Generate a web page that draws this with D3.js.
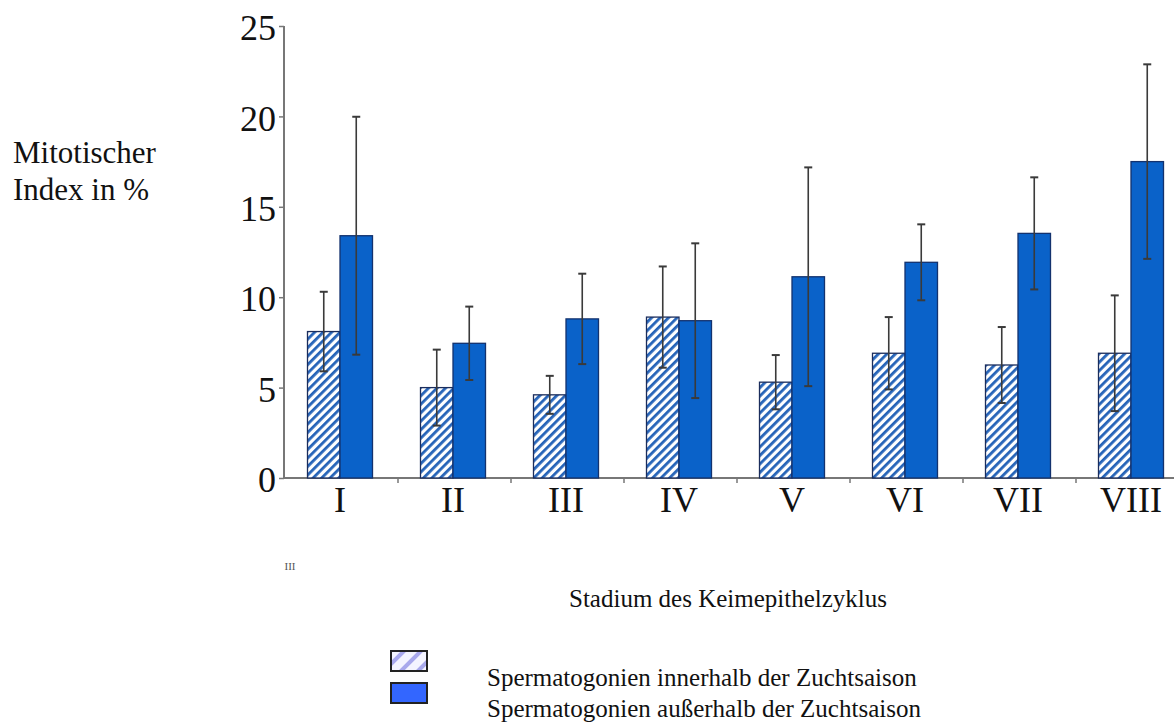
<!DOCTYPE html>
<html><head><meta charset="utf-8">
<script src="https://cdn.jsdelivr.net/npm/d3@7"></script>
<style>
html,body{margin:0;padding:0;background:#fff;}
svg{display:block;}
svg text{font-family:"Liberation Serif","Times New Roman",serif;}
</style></head>
<body><svg id="chart" width="1174" height="725"></svg>
<script>
const categories = ["I","II","III","IV","V","VI","VII","VIII"];
const inSeason = [8.1, 5.0, 4.6, 8.9, 5.3, 6.9, 6.25, 6.9];
const inSeasonErr = [2.2, 2.1, 1.05, 2.8, 1.5, 2.0, 2.1, 3.2];
const outSeason = [13.4, 7.45, 8.8, 8.7, 11.13, 11.93, 13.53, 17.5];
const outSeasonErr = [6.58, 2.03, 2.5, 4.28, 6.05, 2.1, 3.1, 5.38];
const yTicks = [0, 5, 10, 15, 20, 25];
const seriesNames = ["Spermatogonien innerhalb der Zuchtsaison", "Spermatogonien außerhalb der Zuchtsaison"];
const yTitle = ["Mitotischer", "Index in %"];
const xTitle = "Stadium des Keimepithelzyklus";
const strayMark = "III";

const FONT = "Liberation Serif, Times New Roman, serif";
const svg = d3.select("#chart");
const defs = svg.append("defs");
const pat = defs.append("pattern").attr("id","hatch").attr("patternUnits","userSpaceOnUse")
  .attr("width",6).attr("height",6).attr("patternTransform","rotate(45)");
pat.append("rect").attr("width",6).attr("height",6).attr("fill","#ffffff");
pat.append("rect").attr("x",0).attr("width",2.8).attr("height",6).attr("fill","#2563b8");
const pat2 = defs.append("pattern").attr("id","hatchLegend").attr("patternUnits","userSpaceOnUse")
  .attr("width",12).attr("height",12).attr("patternTransform","rotate(45)");
pat2.append("rect").attr("width",12).attr("height",12).attr("fill","#f4f4ff");
pat2.append("rect").attr("x",0).attr("width",4).attr("height",12).attr("fill","#a8a8ec");

const y = d3.scaleLinear().domain([0,25]).range([478,26]);
const x = d3.scaleBand().domain(categories).range([285,1189]).padding(0);
const bw = 32.5;
const off = -1.5;

// y axis
const yAxis = svg.append("g").attr("transform","translate(284,0)")
  .call(d3.axisLeft(y).tickValues(yTicks).tickSize(5).tickPadding(3).tickFormat(d3.format("d")));
yAxis.attr("font-family", FONT);
yAxis.select(".domain").attr("stroke","#777").attr("stroke-width",2).attr("d","M0,26V478");
yAxis.selectAll(".tick line").attr("stroke","#777").attr("stroke-width",1.5);
yAxis.selectAll(".tick text").attr("font-size",36).attr("fill","#111")
  .attr("font-family",FONT).attr("dy","0.38em");

// x axis line & ticks
svg.append("line").attr("x1",284).attr("x2",1174).attr("y1",y(0)).attr("y2",y(0))
  .attr("stroke","#777").attr("stroke-width",2);
svg.append("g").selectAll("line").data(categories.slice(1)).join("line")
  .attr("x1",d=>x(d)).attr("x2",d=>x(d)).attr("y1",y(0)).attr("y2",y(0)+5)
  .attr("stroke","#777").attr("stroke-width",1.5);
svg.append("g").selectAll("text").data(categories).join("text")
  .attr("x",d=>x(d)+x.bandwidth()/2+off).attr("y",512).attr("font-family",FONT)
  .attr("text-anchor","middle").attr("font-size",36).attr("fill","#111").text(d=>d);

// bars
const g = svg.append("g");
categories.forEach((c,i)=>{
  const cx = x(c)+x.bandwidth()/2+off;
  g.append("rect").attr("x",cx-bw).attr("y",y(inSeason[i])).attr("width",bw)
    .attr("height",y(0)-y(inSeason[i])).attr("fill","url(#hatch)")
    .attr("stroke","#1b2d5c").attr("stroke-width",1.3);
  g.append("rect").attr("x",cx).attr("y",y(outSeason[i])).attr("width",bw)
    .attr("height",y(0)-y(outSeason[i])).attr("fill","#0a62c9")
    .attr("stroke","#13326e").attr("stroke-width",1.3);
});
// error bars
const eb = svg.append("g").attr("stroke","#3a3a3a").attr("stroke-width",1.6);
function errBar(cx, v, e){
  eb.append("line").attr("x1",cx).attr("x2",cx).attr("y1",y(v+e)).attr("y2",y(v-e));
  eb.append("line").attr("x1",cx-4).attr("x2",cx+4).attr("y1",y(v+e)).attr("y2",y(v+e)).attr("stroke-width",2);
  eb.append("line").attr("x1",cx-4).attr("x2",cx+4).attr("y1",y(v-e)).attr("y2",y(v-e)).attr("stroke-width",2);
}
categories.forEach((c,i)=>{
  const cx = x(c)+x.bandwidth()/2+off;
  errBar(cx-bw/2, inSeason[i], inSeasonErr[i]);
  errBar(cx+bw/2, outSeason[i], outSeasonErr[i]);
});

// titles
svg.append("text").attr("x",13).attr("y",163).attr("font-family",FONT).attr("font-size",31).attr("fill","#111").text(yTitle[0]);
svg.append("text").attr("x",13).attr("y",200).attr("font-family",FONT).attr("font-size",31).attr("fill","#111").text(yTitle[1]);
svg.append("text").attr("x",728).attr("y",607).attr("font-family",FONT).attr("text-anchor","middle").attr("font-size",25).attr("fill","#111").text(xTitle);
svg.append("text").attr("x",290).attr("y",570).attr("font-family",FONT).attr("text-anchor","middle").attr("font-size",11).attr("fill","#555").text(strayMark);

// legend
const lg = svg.append("g");
lg.append("rect").attr("x",391).attr("y",651).attr("width",36).attr("height",20)
  .attr("fill","url(#hatchLegend)").attr("stroke","#222").attr("stroke-width",2);
lg.append("rect").attr("x",391).attr("y",683).attr("width",36).attr("height",20)
  .attr("fill","#3366ff").attr("stroke","#222").attr("stroke-width",2);
lg.append("text").attr("x",487).attr("y",686).attr("font-family",FONT).attr("font-size",25).attr("fill","#111").text(seriesNames[0]);
lg.append("text").attr("x",487).attr("y",717).attr("font-family",FONT).attr("font-size",25).attr("fill","#111").text(seriesNames[1]);
</script></body></html>
